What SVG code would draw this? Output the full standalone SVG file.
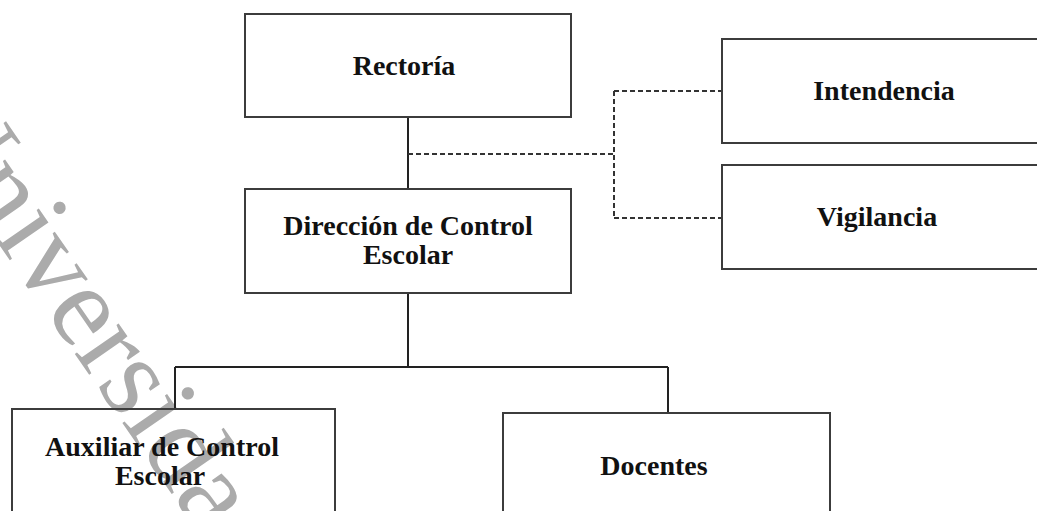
<svg xmlns="http://www.w3.org/2000/svg" width="1037" height="511" viewBox="0 0 1037 511">
  <style>
    .box { fill: none; stroke: #3c3c3c; stroke-width: 2; }
    .label { font-family: "Liberation Serif", "Times New Roman", serif; font-weight: bold; font-size: 28px; fill: #111; text-anchor: middle; }
    .solid { fill: none; stroke: #222; stroke-width: 2; }
    .dashed { fill: none; stroke: #333; stroke-width: 2; stroke-dasharray: 5 3; }
    .mark { font-family: "Liberation Serif", "Times New Roman", serif; font-size: 116px; fill: #ababab; }
  </style>
  <rect width="1037" height="511" fill="#ffffff"/>

  <!-- watermark lettering running diagonally down the left side -->
  <text class="mark" transform="translate(-88 119) rotate(55.3)">Universidad</text>

  <!-- connectors -->
  <g id="connectors">
    <path class="solid" d="M408 117 V189"/>
    <path class="solid" d="M408 293 V367 M175 367 H668 M175 367 V409 M668 367 V413"/>
    <path class="dashed" d="M408 154 H614 M614 91 V218 M614 91 H722 M614 218 H722"/>
  </g>

  <g id="rectoria">
    <rect class="box" x="245" y="14" width="326" height="103"/>
    <text class="label" x="404" y="75">Rectoría</text>
  </g>

  <g id="direccion">
    <rect class="box" x="245" y="189" width="326" height="104"/>
    <text class="label" x="408" y="235">Dirección de Control</text>
    <text class="label" x="408" y="264">Escolar</text>
  </g>

  <g id="intendencia">
    <rect class="box" x="722" y="39" width="330" height="104"/>
    <text class="label" x="884" y="100">Intendencia</text>
  </g>

  <g id="vigilancia">
    <rect class="box" x="722" y="165" width="330" height="104"/>
    <text class="label" x="877" y="226">Vigilancia</text>
  </g>

  <g id="auxiliar">
    <rect class="box" x="12" y="409" width="323" height="120"/>
    <text class="label" x="162" y="456">Auxiliar de Control</text>
    <text class="label" x="160" y="485">Escolar</text>
  </g>

  <g id="docentes">
    <rect class="box" x="503" y="413" width="327" height="120"/>
    <text class="label" x="654" y="475">Docentes</text>
  </g>
</svg>
